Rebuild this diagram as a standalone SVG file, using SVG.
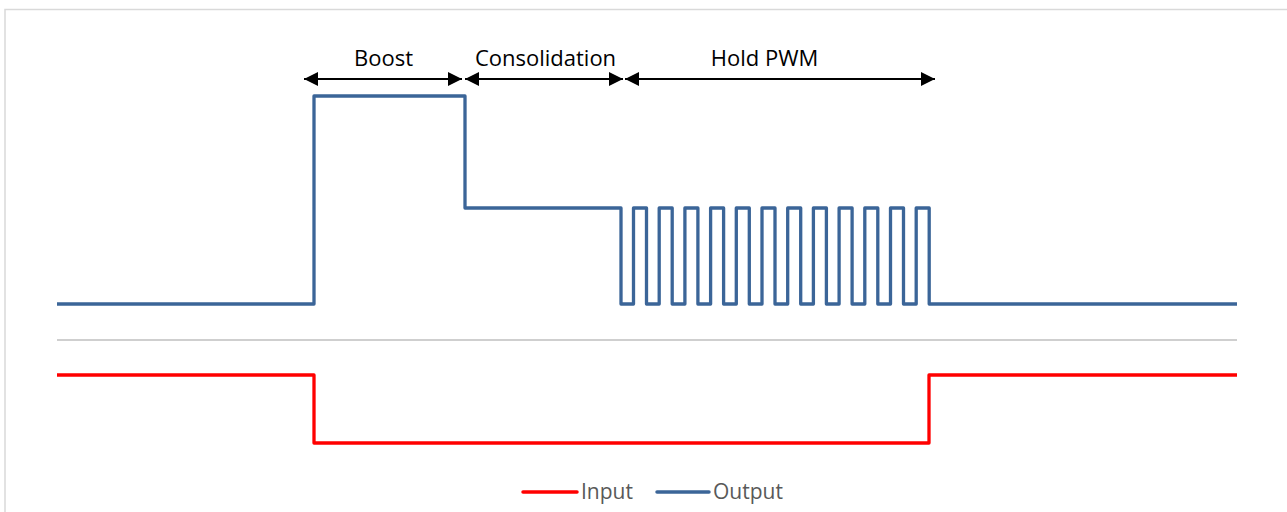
<svg xmlns="http://www.w3.org/2000/svg" width="1287" height="512" viewBox="0 0 1287 512">
<style>
.lbl{font-family:"Open Sans","Liberation Sans",sans-serif;font-size:22px;fill:#000;text-anchor:middle}
.leg{font-family:"Open Sans","Liberation Sans",sans-serif;font-size:21px;fill:#595959}
.sig{fill:none;stroke-width:3.3;stroke-linejoin:round}
.dim{stroke:#000;stroke-width:2;fill:none}
</style>
<defs>
<marker id="ah" viewBox="0 0 10 10" refX="10" refY="5" markerWidth="15" markerHeight="14" markerUnits="userSpaceOnUse" orient="auto-start-reverse">
<path d="M0,0 L10,5 L0,10 z" fill="#000"/>
</marker>
</defs>
<rect width="1287" height="512" fill="#fff"/>
<path d="M5,520 V9.5 H1295" fill="none" stroke="#d9d9d9" stroke-width="1.5"/>
<g id="separator"><line x1="57" y1="340" x2="1237" y2="340" stroke="#bfbfbf" stroke-width="1.5"/></g>
<g id="connectors">
<line class="dim" x1="304" y1="79" x2="462" y2="79" marker-start="url(#ah)" marker-end="url(#ah)"/>
<line class="dim" x1="465" y1="79" x2="623" y2="79" marker-start="url(#ah)" marker-end="url(#ah)"/>
<line class="dim" x1="625" y1="79" x2="935" y2="79" marker-start="url(#ah)" marker-end="url(#ah)"/>
</g>
<g id="label-boost"><text class="lbl" x="383.5" y="66">Boost</text></g>
<g id="label-consolidation"><text class="lbl" x="545.5" y="66">Consolidation</text></g>
<g id="label-hold"><text class="lbl" x="764.5" y="66">Hold PWM</text></g>
<g id="output">
<path class="sig" stroke="#3b6598" d="M57,304 H314 V96 H465 V208 H621 V304 H633.5 V208 H646.5 V304 H659.2 V208 H672.2 V304 H684.9 V208 H697.9 V304 H710.6 V208 H723.6 V304 H736.3 V208 H749.3 V304 H762 V208 H775 V304 H787.7 V208 H800.7 V304 H813.4 V208 H826.4 V304 H839.1 V208 H852.1 V304 H864.8 V208 H877.8 V304 H890.5 V208 H903.5 V304 H916.2 V208 H929.2 V304 H1237"/>
</g>
<g id="input">
<path class="sig" stroke="#ff0000" d="M57,375 H314 V443 H929 V375 H1237"/>
</g>
<g id="legend">
<line x1="523" y1="492" x2="577" y2="492" stroke="#ff0000" stroke-width="3.5" stroke-linecap="round"/>
<text class="leg" x="581" y="499">Input</text>
<line x1="657" y1="492" x2="709" y2="492" stroke="#3b6598" stroke-width="3.5" stroke-linecap="round"/>
<text class="leg" x="713" y="499">Output</text>
</g>
</svg>
